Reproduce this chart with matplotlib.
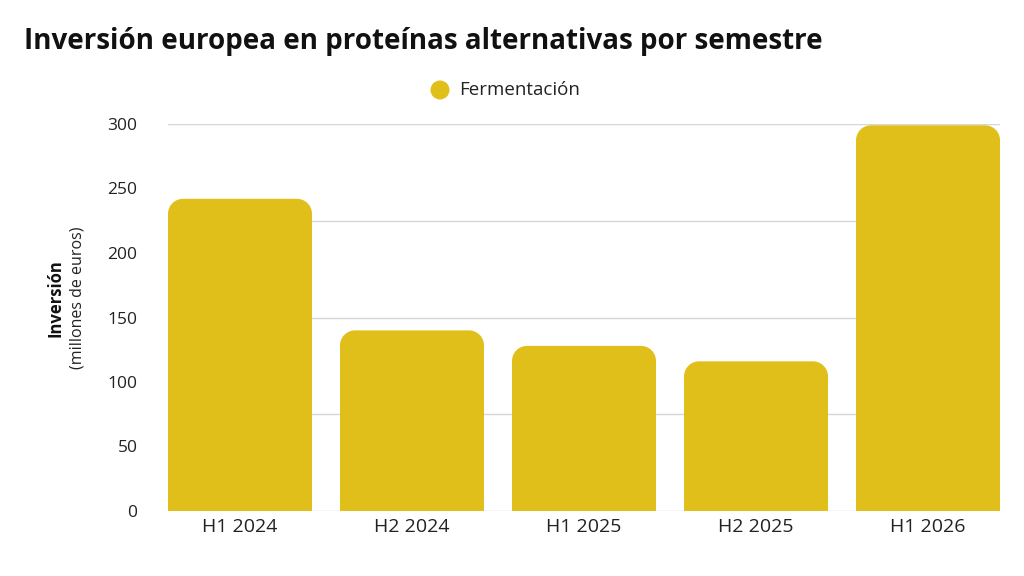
import matplotlib
matplotlib.use("Agg")
import matplotlib.pyplot as plt
from matplotlib.path import Path
from matplotlib.patches import PathPatch, Ellipse
import numpy as np

categories = ["H1 2024", "H2 2024", "H1 2025", "H2 2025", "H1 2026"]
values = [242, 140, 128, 116, 299]
series_name = "Fermentación"
yticks = [0, 50, 100, 150, 200, 250, 300]
grid_levels = [0, 75, 150, 225, 300]

FONT = "Open Sans"
color = "#E0BF1A"
W, H = 1024, 576
fig = plt.figure(figsize=(W / 100, H / 100), dpi=100)
ax = fig.add_axes([168 / W, 1 - 511 / H, (1000 - 168) / W, (511 - 124) / H])

width = 0.837
x = np.arange(len(categories))
ax.set_xlim(-width / 2, len(categories) - 1 + width / 2)
ax.set_ylim(0, 300)

for g in grid_levels:
    ax.axhline(g, color="#d6d6d6", lw=1, zorder=0)

ax_w_px = 1000 - 168
ax_h_px = 511 - 124
xr = ax.get_xlim()
yr = ax.get_ylim()
r_px = 15
rx = r_px * (xr[1] - xr[0]) / ax_w_px
ry = r_px * (yr[1] - yr[0]) / ax_h_px
k = 0.5523

for xi, v in zip(x, values):
    l, rr = xi - width / 2, xi + width / 2
    t = v
    verts = [
        (l, 0), (l, t - ry),
        (l, t - ry + k * ry), (l + rx - k * rx, t), (l + rx, t),
        (rr - rx, t),
        (rr - rx + k * rx, t), (rr, t - ry + k * ry), (rr, t - ry),
        (rr, 0), (l, 0),
    ]
    codes = [Path.MOVETO, Path.LINETO,
             Path.CURVE4, Path.CURVE4, Path.CURVE4,
             Path.LINETO,
             Path.CURVE4, Path.CURVE4, Path.CURVE4,
             Path.LINETO, Path.CLOSEPOLY]
    ax.add_patch(PathPatch(Path(verts, codes), facecolor=color, edgecolor="none",
                           zorder=2, clip_on=False))

for s in ax.spines.values():
    s.set_visible(False)
ax.set_xticks(x)
ax.set_xticklabels(categories)
ax.set_yticks(yticks)
ax.tick_params(axis="both", length=0, colors="#222222")
ax.tick_params(axis="y", pad=22, labelsize=12.5)
ax.tick_params(axis="x", pad=5, labelsize=14)
for lab in ax.get_xticklabels() + ax.get_yticklabels():
    lab.set_fontfamily(FONT)

fig.text(24 / W, 1 - 42 / H, "Inversión europea en proteínas alternativas por semestre",
         fontsize=20, fontweight="bold", fontfamily=FONT, color="#111111",
         ha="left", va="center")

fig.patches.append(Ellipse((440 / W, 1 - 90 / H), 19 / W, 19 / H,
                           transform=fig.transFigure, facecolor=color, edgecolor="none"))
fig.text(459 / W, 1 - 90 / H, series_name, fontsize=13.5, fontfamily=FONT,
         color="#222222", ha="left", va="center")

fig.text(55 / W, 1 - 298 / H, "Inversión", rotation=90, fontsize=12, fontweight="bold",
         fontfamily=FONT, color="#111111", ha="center", va="center")
fig.text(77 / W, 1 - 298 / H, "(millones de euros)", rotation=90, fontsize=11.5,
         fontfamily=FONT, color="#222222", ha="center", va="center")

fig.savefig("out.png", dpi=100, facecolor="white")
